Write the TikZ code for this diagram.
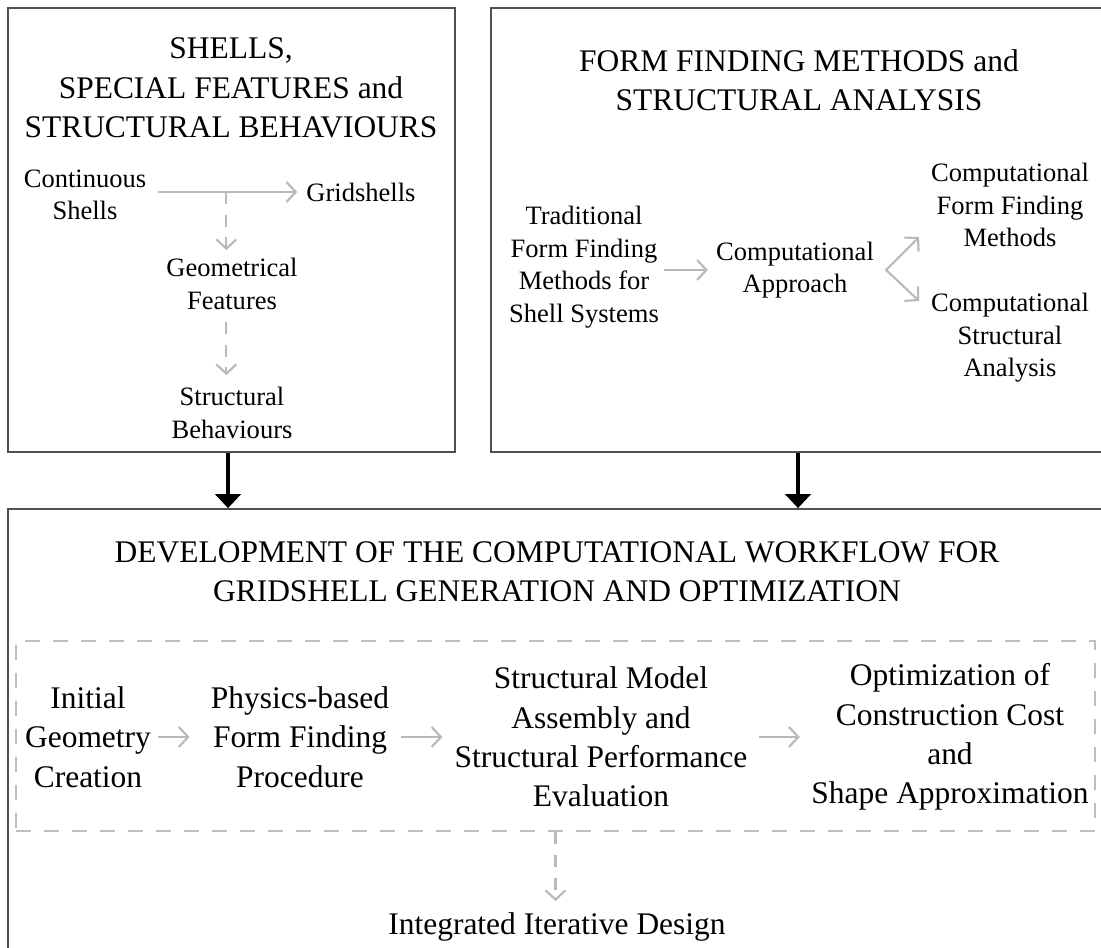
\documentclass[tikz,border=0pt]{standalone}
\usepackage{fontspec}
\setmainfont{Liberation Serif}
\usetikzlibrary{arrows.meta,fit,calc}
\definecolor{boxgray}{RGB}{80,80,80}
\definecolor{arrgray}{RGB}{185,185,185}
\definecolor{dashgray}{RGB}{190,190,190}
\begin{document}
\begin{tikzpicture}[x=0.75pt,y=-0.75pt,
  box/.style={draw=boxgray, line width=1.3pt, inner sep=0pt},
  txt/.style={align=center, inner sep=0pt, font=\fontsize{19.9pt}{24.4pt}\selectfont},
  big/.style={align=center, inner sep=0pt, font=\fontsize{23.6pt}{29.5pt}\selectfont},
  garrow/.style={draw=arrgray, line width=1.6pt, -{Straight Barb[length=7pt,width=15pt]}},
  gboth/.style={draw=arrgray, line width=1.6pt, line join=miter,
    {Straight Barb[length=7pt,width=15pt]}-{Straight Barb[length=7pt,width=15pt]}},
  gdash/.style={garrow, dash pattern=on 9pt off 8pt},
  darrow/.style={draw=black, line width=2.6pt, -{Triangle[length=10.5pt,width=19pt]}},
  flowbox/.style={draw=dashgray, line width=1.9pt, dash pattern=on 11pt off 10pt, inner sep=0pt},
]
\clip (0,0) rectangle (1101,948);

% the three frames
\node[box, fit={(8,8) (455,452)}] (shells) {};
\node[box, fit={(491,8) (1105,452)}] (form) {};
\node[box, fit={(8,509) (1105,960)}] (dev) {};

\draw[darrow] ([xshift=-2.6pt]shells.south) -- ([xshift=-2.6pt]shells.south |- dev.north);
\draw[darrow] (form.south) -- (form.south |- dev.north);

% shells and their features
\node[big] (t1) at (231,88) {SHELLS,\\SPECIAL FEATURES and\\STRUCTURAL BEHAVIOURS};
\node[txt] (cs) at (85,195) {Continuous\\Shells};
\node[txt] (gs) at (361,192) {Gridshells};
\node[txt] (gf) at (232,284) {Geometrical\\Features};
\node[txt] (sb) at (232,413) {Structural\\Behaviours};

\draw[garrow, shorten <=9pt, shorten >=6.75pt] (cs.east |- gs.west) -- (gs.west);
\coordinate (br) at ($(cs.east |- gs.west)!0.5!(gs.west)$);
\draw[gdash, shorten >=6pt] (br) -- (br |- gf.north);
\draw[gdash, shorten <=9pt, shorten >=9pt] (br |- gf.south) -- (br |- sb.north);

% form finding and analysis
\node[big] (t2) at (799,80) {FORM FINDING METHODS and\\STRUCTURAL ANALYSIS};
\node[txt] (tf) at (584,267) {Traditional\\Form Finding\\Methods for\\Shell Systems};
\node[txt] (ca) at (795,270) {Computational\\Approach};
\node[txt] (cf) at (1010,205) {Computational\\Form Finding\\Methods};
\node[txt] (csa) at (1010,338) {Computational\\Structural\\Analysis};

\draw[garrow, shorten <=3.75pt, shorten >=6pt] (tf.east |- ca.west) -- (ca.west);
\coordinate (fork) at ([xshift=9pt]ca.east);
\draw[gboth] ($(fork)+(33,-33)$) -- (fork) -- ($(fork)+(33,31)$);

% computational workflow
\node[big] (t3) at (557,572) {DEVELOPMENT OF THE COMPUTATIONAL WORKFLOW FOR\\GRIDSHELL GENERATION AND OPTIMIZATION};
\node[flowbox, fit={(16,641) (1095,831)}] (flow) {};
\node[big] (ig) at (88,737) {Initial\\Geometry\\Creation};
\node[big] (pf) at (300,737) {Physics-based\\Form Finding\\Procedure};
\node[big] (sm) at (601,737) {Structural Model\\Assembly and\\Structural Performance\\Evaluation};
\node[big] (oc) at (950,737) {Optimization of\\Construction Cost\\and\\Shape Approximation};
\node[big] (iid) at (557,927) {Integrated Iterative Design};

\draw[garrow, shorten <=5.25pt, shorten >=15.75pt] (ig.east) -- (ig.east -| pf.west);
\draw[garrow, shorten <=9pt, shorten >=9pt] (pf.east) -- (pf.east -| sm.west);
\draw[garrow, shorten <=8.6pt, shorten >=8.6pt] (sm.east) -- (sm.east -| oc.west);
\draw[gdash, shorten >=8.5pt] (flow.south) -- (flow.south |- iid.north);
\end{tikzpicture}
\end{document}
